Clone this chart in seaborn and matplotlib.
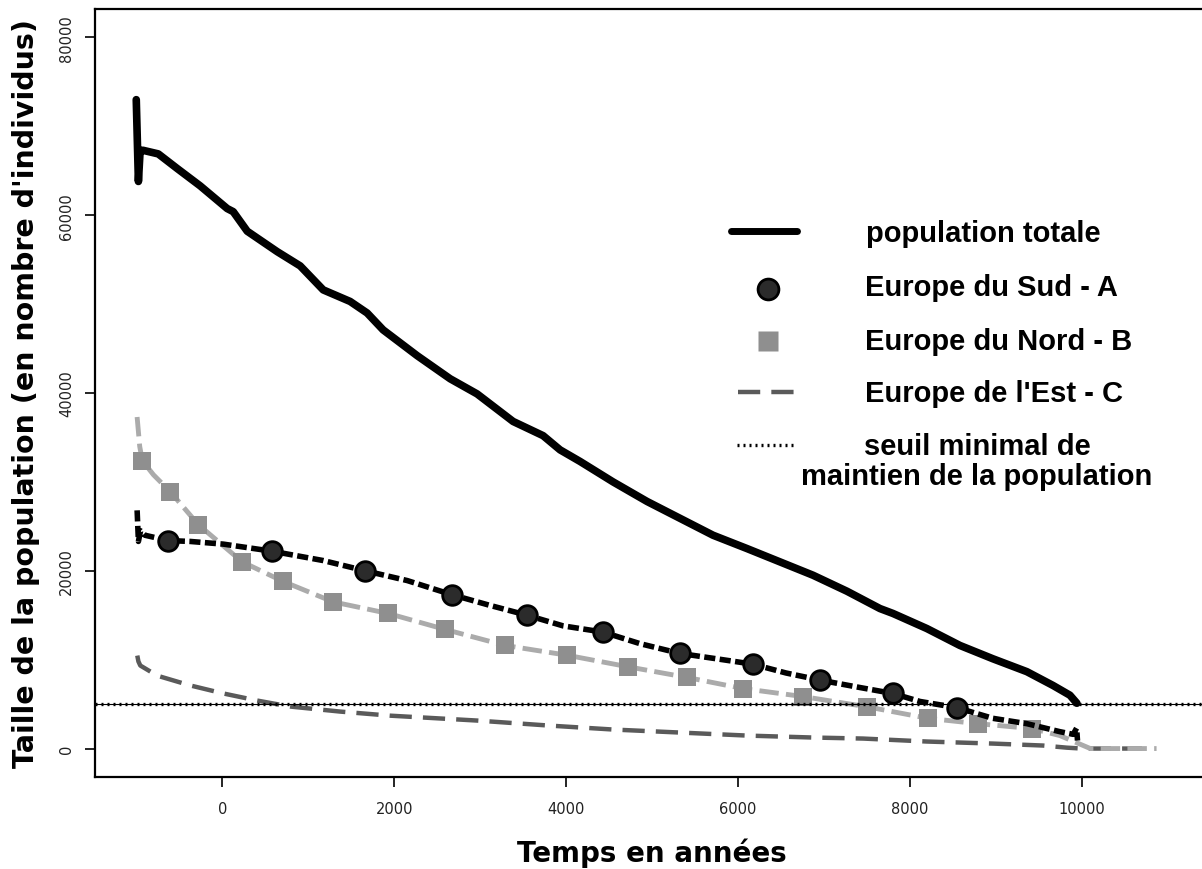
import matplotlib
matplotlib.use("Agg")
import matplotlib.pyplot as plt
import seaborn as sns
import numpy as np

# valeurs
total_x = [-1000, -975, -955, -920, -744, -523, -256, 58, 128, 291, 640, 907, 1175, 1488,
           1686, 1872, 2268, 2652, 2965, 3384, 3733, 3931, 4163, 4547, 4942, 5326, 5710,
           6105, 6489, 6873, 7268, 7652, 7803, 8198, 8582, 8966, 9361, 9665, 9862, 9943]
total_y = [73000, 63800, 67300, 67300, 66900, 65250, 63300, 60750, 60400, 58200, 55900,
           54300, 51600, 50300, 49000, 47100, 44200, 41600, 39900, 36800, 35200, 33600,
           32300, 30000, 27800, 25900, 24000, 22500, 21000, 19500, 17700, 15750, 15200,
           13500, 11600, 10100, 8650, 7100, 6000, 5100]

sud_x = [-990, -975, -950, -900, -628, -372, 12, 581, 1175, 1663, 2152, 2675, 3117, 3547,
         3966, 4431, 4861, 5326, 5750, 6170, 6560, 6955, 7400, 7800, 8117, 8547, 8966,
         9361, 9745, 9900, 9940, 9950]
sud_y = [26800, 23300, 24500, 24000, 23400, 23300, 23000, 22200, 21150, 20000, 18900,
         17300, 16100, 15000, 13800, 13100, 11800, 10700, 10100, 9500, 8500, 7700, 6900,
         6200, 5300, 4600, 3400, 2800, 1900, 1600, 2300, 900]
sud_mx = [-628, 581, 1663, 2675, 3547, 4431, 5326, 6170, 6955, 7800, 8547]
sud_my = [23400, 22200, 20000, 17300, 15000, 13100, 10700, 9500, 7700, 6200, 4600]

nord_x = [-990, -960, -930, -800, -605, -279, 233, 709, 1291, 1930, 2593, 3291, 4012,
          4721, 5408, 6059, 6757, 7501, 8210, 8792, 9420, 9745, 10100, 10870]
nord_y = [37300, 34000, 32400, 30800, 28900, 25200, 21000, 18800, 16500, 15200, 13400,
          11600, 10500, 9200, 8000, 6750, 5850, 4700, 3400, 2800, 2250, 1460, 0, 0]
nord_mx = [-930, -605, -279, 233, 709, 1291, 1930, 2593, 3291, 4012, 4721, 5408, 6059,
           6757, 7501, 8210, 8792, 9420]
nord_my = [32400, 28900, 25200, 21000, 18800, 16500, 15200, 13400, 11600, 10500, 9200,
           8000, 6750, 5850, 4700, 3400, 2800, 2250]

est_x = [-988, -975, -953, -756, -372, 12, 407, 791, 1372, 1954, 2965, 3780, 4547, 5326,
         6105, 6873, 7455, 8198, 8966, 9548, 9826, 10000, 10700]
est_y = [10460, 9800, 9340, 8200, 7100, 6200, 5400, 4725, 4160, 3700, 3150, 2600, 2140,
         1800, 1460, 1240, 1125, 790, 560, 340, 100, 0, 0]

seuil = 5000

x_ticks = [0, 2000, 4000, 6000, 8000, 10000]
y_ticks = [0, 20000, 40000, 60000, 80000]

sns.set_style("ticks")
plt.rcParams['font.family'] = ['DejaVu Sans']
plt.rcParams['text.color'] = 'black'
plt.rcParams['axes.labelcolor'] = 'black'

fig = plt.figure(figsize=(12.02, 8.70), dpi=100)
ax = fig.add_axes([95 / 1202, 1 - 778 / 870, (1209 - 95) / 1202, 768 / 870])

sns.lineplot(x=est_x, y=est_y, ax=ax, sort=False, estimator=None, color='#5a5a5a',
             lw=3.2, zorder=2).lines[-1].set_dashes((5, 2.5))
sns.lineplot(x=nord_x, y=nord_y, ax=ax, sort=False, estimator=None, color='#ababab',
             lw=3.5, zorder=3).lines[-1].set_dashes((4, 1.5))
sns.scatterplot(x=nord_mx, y=nord_my, ax=ax, marker='s', s=170, color='#8f8f8f',
                edgecolor='none', zorder=4)
ax.axhline(seuil, color='black', lw=0.8, zorder=5)
ax.axhline(seuil, color='black', lw=2.4, ls=(0, (0.6, 1.2)), zorder=5)
sns.lineplot(x=sud_x, y=sud_y, ax=ax, sort=False, estimator=None, color='black',
             lw=4, zorder=6).lines[-1].set_dashes((2, 0.8))
sns.scatterplot(x=sud_mx, y=sud_my, ax=ax, marker='o', s=200, color='#2b2b2b',
                edgecolor='black', linewidth=2, zorder=7)
sns.lineplot(x=total_x, y=total_y, ax=ax, sort=False, estimator=None, color='black',
             lw=5.5, zorder=8)

ax.set_xlim(-1480, 11480)
ax.set_ylim(-3200, 83200)
ax.set_xticks(x_ticks)
ax.set_yticks(y_ticks)
ax.set_xticklabels([str(v) for v in x_ticks], fontsize=10.5, color='#222222')
ax.set_yticklabels([str(v) for v in y_ticks], fontsize=10.5, color='#222222',
                   rotation=90, va='center')
ax.tick_params(axis='both', direction='out', length=7, width=1.2, color='black')
ax.tick_params(axis='x', pad=10)
ax.tick_params(axis='y', pad=8)
for side in ['left', 'bottom', 'top']:
    ax.spines[side].set_linewidth(1.6)
    ax.spines[side].set_color('black')
ax.spines['right'].set_visible(False)

ax.set_xlabel("Temps en années", fontsize=20, fontweight='bold', labelpad=16,
              color='black')
ax.set_ylabel("Taille de la population (en nombre d'individus)", fontsize=20.5,
              fontweight='bold', labelpad=14, color='black')

# légende
tr = ax.transAxes
def ax_pt(px, py):
    return (px - 95) / 1114, (778 - py) / 768

lf = dict(family='Liberation Sans', fontsize=21, fontweight='bold', transform=tr,
          va='center', color='black')
x0, y0 = ax_pt(731, 232); x1, _ = ax_pt(797, 232)
ax.plot([x0, x1], [y0, y0], transform=tr, color='black', lw=5, clip_on=False)
ax.text(*ax_pt(866, 234), "population totale", ha='left', **lf)
ax.plot(*ax_pt(768, 290), transform=tr, marker='o', ms=15, color='#2b2b2b',
        mec='black', mew=2, clip_on=False)
ax.text(*ax_pt(865, 288), "Europe du Sud - A", ha='left', **lf)
ax.plot(*ax_pt(768, 342), transform=tr, marker='s', ms=14, color='#8f8f8f',
        mec='none', clip_on=False)
ax.text(*ax_pt(865, 342), "Europe du Nord - B", ha='left', **lf)
x0, y0 = ax_pt(738, 393); x1, _ = ax_pt(798, 393)
ax.plot([x0, x1], [y0, y0], transform=tr, color='#5a5a5a', lw=3.2,
        dashes=(5, 2.5), clip_on=False)
ax.text(*ax_pt(865, 394), "Europe de l'Est - C", ha='left', **lf)
x0, y0 = ax_pt(737, 446); x1, _ = ax_pt(797, 446)
ax.plot([x0, x1], [y0, y0], transform=tr, color='black', lw=2.4,
        ls=(0, (0.6, 1.2)), clip_on=False)
ax.text(*ax_pt(977, 462), "seuil minimal de\nmaintien de la population",
        ha='center', multialignment='center', linespacing=1.05, **lf)

fig.savefig("out.png", dpi=100)
